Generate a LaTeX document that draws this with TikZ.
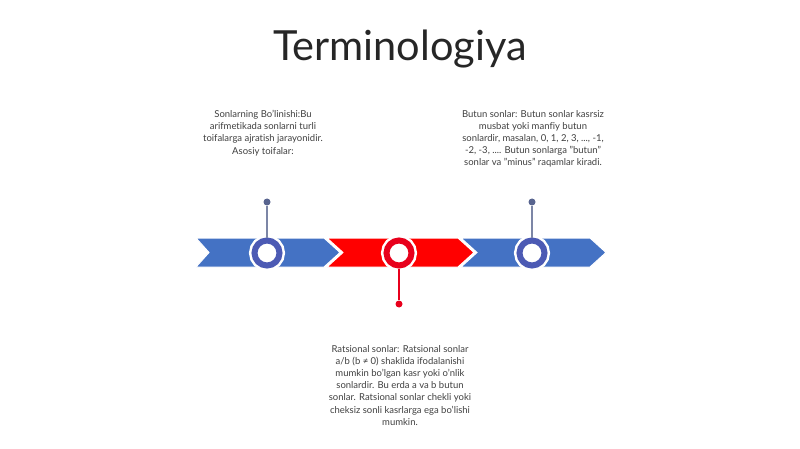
\documentclass[tikz,border=0pt]{standalone}
\usepackage{fontspec}
\setmainfont{Lato}[Ligatures={NoCommon}]
\definecolor{chevblue}{HTML}{4472C4}
\definecolor{ringblue}{HTML}{4C5AB4}
\definecolor{stemblue}{HTML}{7C86A6}
\definecolor{dotblue}{HTML}{58648F}
\definecolor{chevred}{HTML}{FF0000}
\definecolor{ringred}{HTML}{E8001C}
\definecolor{txtgray}{HTML}{404040}
\begin{document}
\begin{tikzpicture}[x=1pt,y=-1pt,
  chev/.style={draw=white,line width=1pt,line join=miter},
  ringnode/.style={circle,minimum size=25pt,inner sep=0pt,line width=6pt,fill=white,
     preaction={draw=white,line width=11pt}},
  stemdot/.style={circle,minimum size=7pt,inner sep=0pt},
  desc/.style={align=center,text=txtgray,inner sep=0pt,anchor=north,
     font=\fontsize{9.5}{12.2}\selectfont}]
\useasboundingbox (0,0) rectangle (800,449);
\fill[white] (0,0) rectangle (800,449);
% title
\node[anchor=base,text=black!85,font=\fontsize{41.5}{48}\selectfont,inner sep=0pt] (title) at (400,61) {Terminologiya};
% chevrons
\path[chev,fill=chevblue] (196,238) -- (324,238) -- (340,252.5) -- (324,267) -- (196,267) -- (209,252.5) -- cycle;
\path[chev,fill=chevred] (327,238) -- (458,238) -- (474,252.5) -- (458,267) -- (327,267) -- (343,252.5) -- cycle;
\path[chev,fill=chevblue] (461,238) -- (590,238) -- (606,252.5) -- (590,267) -- (461,267) -- (477,252.5) -- cycle;
% rings
\node[ringnode,draw=ringblue] (r1) at (267,253) {};
\node[ringnode,draw=ringred] (r2) at (399,253) {};
\node[ringnode,draw=ringblue] (r3) at (532,253) {};
% stems
\node[stemdot,fill=dotblue] (d1) at (267,202) {};
\node[stemdot,fill=ringred] (d2) at (399,304) {};
\node[stemdot,fill=dotblue] (d3) at (532,202) {};
\draw[stemblue,line width=1.3pt] (d1) -- (r1.north);
\draw[ringred,line width=1.3pt] (r2.south) -- (d2);
\draw[stemblue,line width=1.3pt] (d3) -- (r3.north);
% texts
\node[desc] (t1) at (263,110) {Sonlarning Bo'linishi:Bu\\arifmetikada sonlarni turli\\toifalarga ajratish jarayonidir.\\Asosiy toifalar:};
\node[desc] (t3) at (533,110) {Butun sonlar: Butun sonlar kasrsiz\\musbat yoki manfiy butun\\sonlardir, masalan, 0, 1, 2, 3, ..., -1,\\-2, -3, .... Butun sonlarga "butun"\\sonlar va "minus" raqamlar kiradi.};
\node[desc] (t2) at (400,345) {Ratsional sonlar: Ratsional sonlar\\a/b (b ≠ 0) shaklida ifodalanishi\\mumkin bo'lgan kasr yoki o'nlik\\sonlardir. Bu erda a va b butun\\sonlar. Ratsional sonlar chekli yoki\\cheksiz sonli kasrlarga ega bo'lishi\\mumkin.};
\end{tikzpicture}
\end{document}
